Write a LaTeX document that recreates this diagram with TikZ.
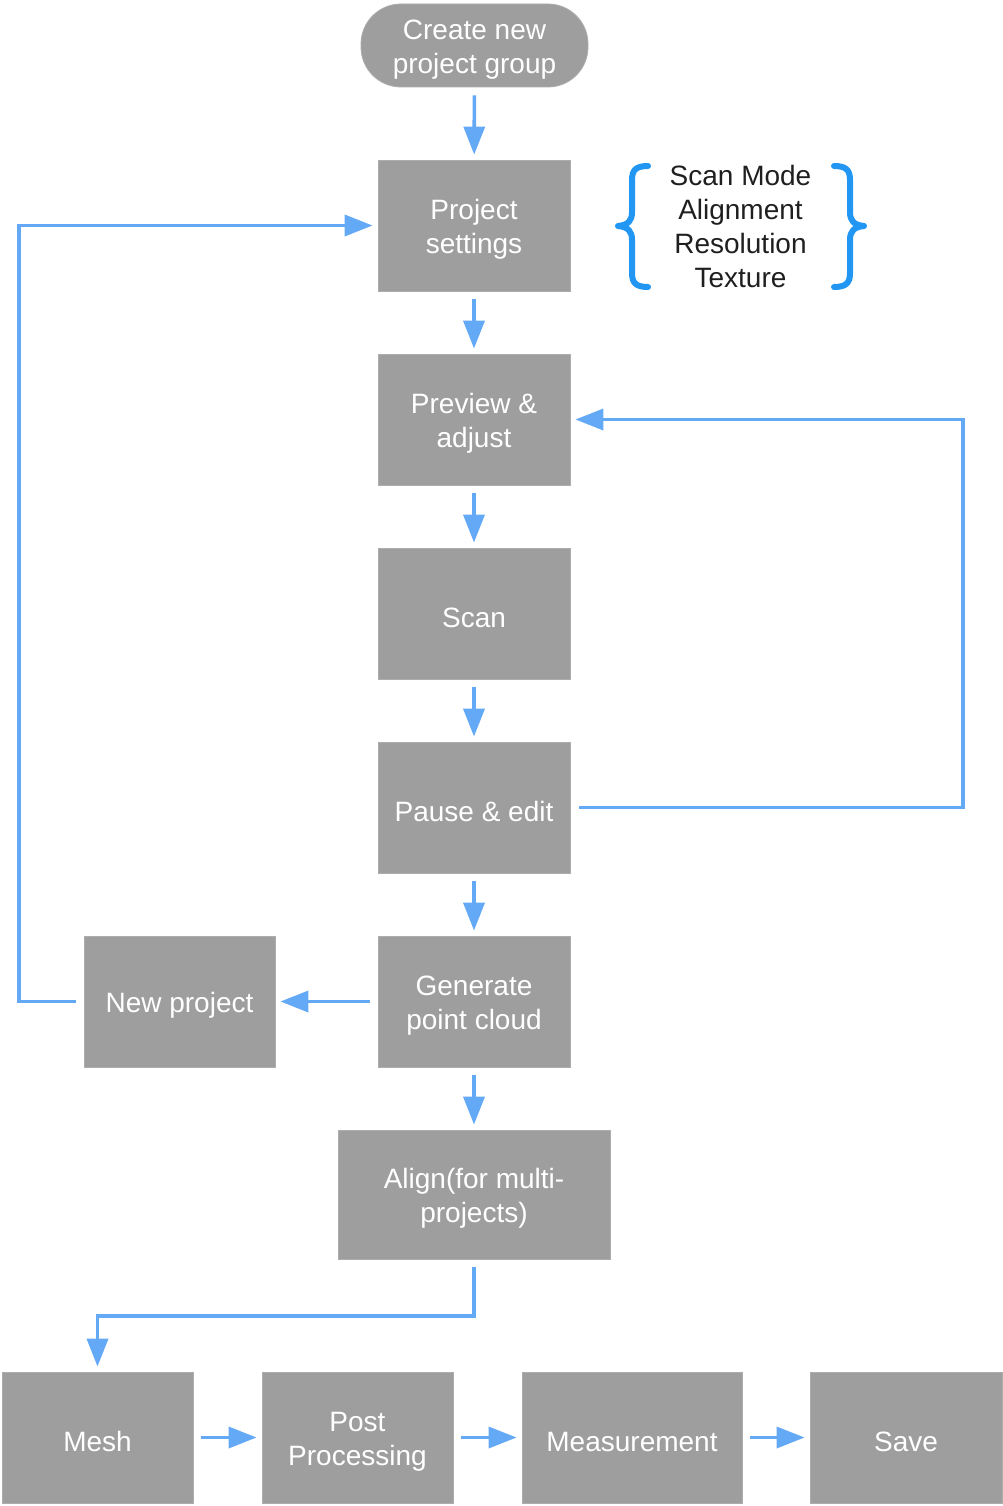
\documentclass[tikz,border=0pt]{standalone}
\usepackage{fontspec}
\setmainfont{Liberation Sans}
\usetikzlibrary{arrows.meta}
\definecolor{boxgray}{HTML}{9E9E9E}
\definecolor{arrblue}{HTML}{64A9F6}
\definecolor{braceblue}{HTML}{2196F3}
\tikzset{
  box/.style={fill=boxgray, draw=boxgray!85!white, line width=0.8pt, inner sep=0pt},
  boxtext/.style={text=white, align=center, inner sep=0pt, yshift=-4pt,
    font=\fontsize{28}{34}\selectfont},
  arr/.style={draw=arrblue, line width=3.6pt, -{Triangle[length=28pt,width=21pt]},
    shorten <=8pt, shorten >=5pt},
  bracestyle/.style={draw=braceblue, line width=6pt, line cap=round, line join=round},
}
\begin{document}
\begin{tikzpicture}[x=1pt,y=-1pt]
\useasboundingbox (0,0) rectangle (1003,1506);
\node[box, rounded corners=40pt, minimum width=227pt, minimum height=83pt,
  label={[boxtext]center:Create new\\project group}] (create) at (474.5,45.5) {};
\node[box, minimum width=192pt, minimum height=131pt,
  label={[boxtext]center:Project\\settings}] (settings) at (474,225.5) {};
\node[box, minimum width=192pt, minimum height=131pt,
  label={[boxtext]center:Preview \&\\adjust}] (preview) at (474,419.5) {};
\node[box, minimum width=192pt, minimum height=131pt,
  label={[boxtext]center:Scan}] (scan) at (474,613.5) {};
\node[box, minimum width=192pt, minimum height=131pt,
  label={[boxtext]center:Pause \& edit}] (pause) at (474,807.5) {};
\node[box, minimum width=192pt, minimum height=131pt,
  label={[boxtext]center:Generate\\point cloud}] (generate) at (474,1001.5) {};
\node[box, minimum width=191pt, minimum height=131pt,
  label={[boxtext]center:New project}] (newproj) at (179.5,1001.5) {};
\node[box, minimum width=272pt, minimum height=129pt,
  label={[boxtext]center:Align(for multi-\\projects)}] (align) at (474,1194.5) {};
\node[box, minimum width=191pt, minimum height=131pt,
  label={[boxtext]center:Mesh}] (mesh) at (97.5,1437.5) {};
\node[box, minimum width=191pt, minimum height=131pt,
  label={[boxtext]center:Post\\Processing}] (post) at (357.5,1437.5) {};
\node[box, minimum width=220pt, minimum height=131pt,
  label={[boxtext]center:Measurement}] (meas) at (632,1437.5) {};
\node[box, minimum width=192pt, minimum height=131pt,
  label={[boxtext]center:Save}] (save) at (906,1437.5) {};

\node[align=center, text=black!88, inner sep=0pt, font=\fontsize{28}{34}\selectfont] (params) at (740.5,226) {Scan Mode\\Alignment\\Resolution\\Texture};

% braces
\draw[bracestyle] (648,166) .. controls (636,166) and (632,170) .. (632,180) -- (632,212)
  .. controls (632,221) and (628,225) .. (618,226) .. controls (628,227) and (632,231) .. (632,240)
  -- (632,273) .. controls (632,283) and (636,287) .. (648,287);
\draw[bracestyle] (834,166) .. controls (846,166) and (850,170) .. (850,180) -- (850,212)
  .. controls (850,221) and (854,225) .. (864,226) .. controls (854,227) and (850,231) .. (850,240)
  -- (850,273) .. controls (850,283) and (846,287) .. (834,287);

\coordinate (lbend) at (19,0);
\coordinate (rbend) at (963,0);
\coordinate (midy) at (0,1316);

\draw[arr] (create) -- (settings);
\draw[arr] (settings) -- (preview);
\draw[arr] (preview) -- (scan);
\draw[arr] (scan) -- (pause);
\draw[arr] (pause) -- (generate);
\draw[arr] (generate) -- (newproj);
\draw[arr] (generate) -- (align);
\draw[arr] (newproj.west) -- (newproj.west -| lbend) -- (settings.west -| lbend) -- (settings.west);
\draw[arr] ([xshift=1pt]pause.east) -- (pause.east -| rbend) -- (preview.east -| rbend) -- (preview.east);
\draw[arr] (align.south) -- (align.south |- midy) -- (mesh.north |- midy) -- (mesh.north);
\draw[arr] (mesh) -- (post);
\draw[arr] (post) -- (meas);
\draw[arr] (meas) -- (save);
\end{tikzpicture}
\end{document}
